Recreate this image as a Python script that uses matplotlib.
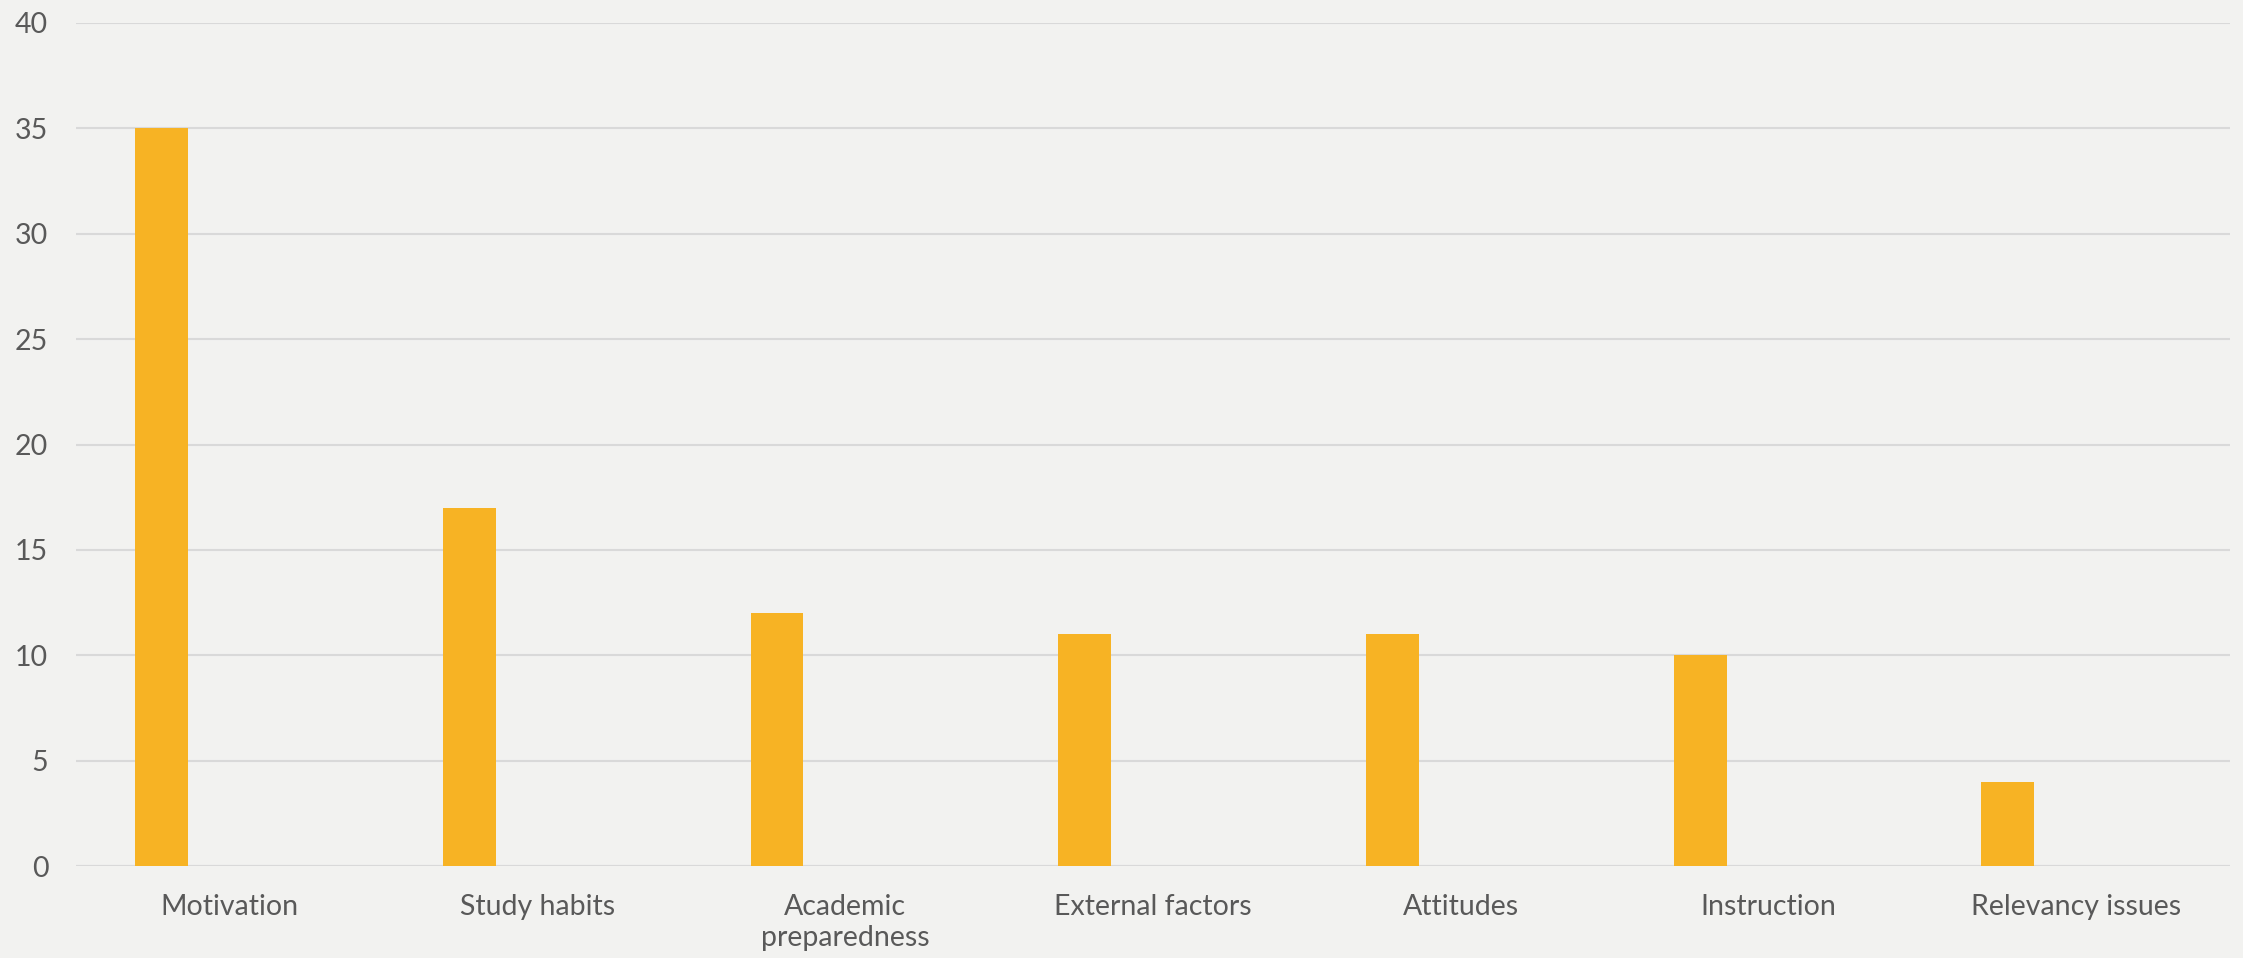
import numpy as np
import matplotlib.pyplot as plt

# data
categories = ['Motivation', 'Study habits', 'Academic\npreparedness', 'External factors',
              'Attitudes', 'Instruction', 'Relevancy issues']
counts = [35, 17, 12, 11, 11, 10, 4]
y_ticks = [0, 5, 10, 15, 20, 25, 30, 35, 40]

bg = '#F2F2F0'
bar_color = '#F7B324'
grid_color = '#D9D9D9'
text_color = '#595959'

plt.rcParams['font.family'] = ['Lato', 'DejaVu Sans']

fig = plt.figure(figsize=(22.43, 9.58), dpi=100, facecolor=bg)
ax = fig.add_axes([0.0339, 0.096, 0.9603, 0.880], facecolor=bg)

x = np.arange(len(categories))
ax.bar(x - 0.222, counts, width=0.172, color=bar_color, zorder=3)

ax.set_xlim(-0.5, len(categories) - 0.5)
ax.set_ylim(0, 40)
ax.set_yticks(y_ticks)
ax.set_yticklabels([str(v) for v in y_ticks])
ax.set_xticks(x)
ax.set_xticklabels(categories, linespacing=1.25)

ax.grid(axis='y', color=grid_color, linewidth=1.5, zorder=0)
ax.set_axisbelow(True)
for s in ax.spines.values():
    s.set_visible(False)
ax.axhline(0, color=grid_color, linewidth=1.5, zorder=1)

ax.tick_params(axis='both', length=0, colors=text_color, labelsize=20.5)
ax.tick_params(axis='y', pad=20)
ax.tick_params(axis='x', pad=20)

plt.savefig('out.png', dpi=100, facecolor=bg)
